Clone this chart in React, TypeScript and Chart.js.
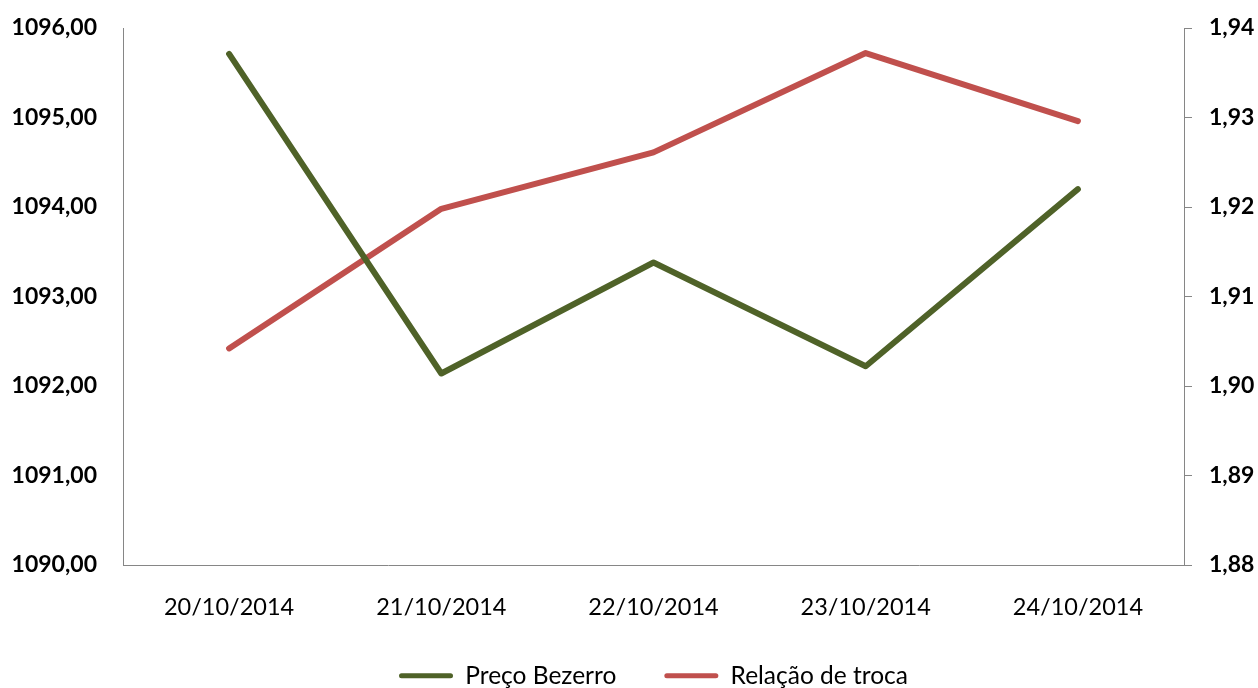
import { useEffect, useRef } from "react";
import { Chart, registerables } from "chart.js";

Chart.register(...registerables);

const categories = ["20/10/2014", "21/10/2014", "22/10/2014", "23/10/2014", "24/10/2014"];
const precoBezerro = [1095.71, 1092.14, 1093.38, 1092.22, 1094.2];
const relacaoTroca = [1.9042, 1.9198, 1.9261, 1.9372, 1.9296];
const leftTicks = [1090, 1091, 1092, 1093, 1094, 1095, 1096];
const rightTicks = [1.88, 1.89, 1.9, 1.91, 1.92, 1.93, 1.94];
const seriesNames = ["Preço Bezerro", "Relação de troca"];

const fmt = (v: number) => v.toFixed(2).replace(".", ",");

export default function App() {
  const ref = useRef<HTMLCanvasElement | null>(null);

  useEffect(() => {
    if (!ref.current) return;
    const axisColor = "#868686";
    const chart = new Chart(ref.current, {
      type: "line",
      data: {
        labels: categories,
        datasets: [
          {
            label: seriesNames[0],
            data: precoBezerro,
            borderColor: "#4F6228",
            backgroundColor: "#4F6228",
            borderWidth: 6,
            borderCapStyle: "round",
            borderJoinStyle: "round",
            pointRadius: 0,
            tension: 0,
            yAxisID: "y",
          },
          {
            label: seriesNames[1],
            data: relacaoTroca,
            borderColor: "#C0504D",
            backgroundColor: "#C0504D",
            borderWidth: 6,
            borderCapStyle: "round",
            borderJoinStyle: "round",
            pointRadius: 0,
            tension: 0,
            yAxisID: "y1",
          },
        ],
      },
      options: {
        responsive: false,
        animation: false,
        layout: { padding: { top: 28, bottom: 0, left: 0, right: 0 } },
        plugins: {
          tooltip: { enabled: false },
          legend: {
            position: "bottom",
            fullSize: false,
            labels: {
              boxWidth: 54,
              boxHeight: 5,
              padding: 48,
              color: "#000",
              font: { family: "Lato", size: 24.5 },
              generateLabels: (c: any) =>
                c.data.datasets.map((ds: any, i: number) => ({
                  text: ds.label,
                  fillStyle: ds.borderColor,
                  strokeStyle: ds.borderColor,
                  lineWidth: 0,
                  hidden: false,
                  datasetIndex: i,
                  borderRadius: 2.5,
                  fontColor: "#000",
                })),
            },
          },
        },
        scales: {
          x: {
            offset: true,
            grid: { display: false, drawTicks: false },
            border: { display: true, color: axisColor, width: 1 },
            ticks: {
              color: "#000",
              padding: 28,
              maxRotation: 0,
              font: { family: "Lato", size: 23.5 },
            },
            afterFit: (s: any) => {
              s.height = 50.5;
            },
          },
          y: {
            position: "left",
            min: 1090,
            max: 1096,
            grid: { display: false, drawTicks: false },
            border: { display: true, color: axisColor, width: 1 },
            ticks: {
              color: "#000",
              padding: 26,
              font: { family: "Lato", size: 23, weight: "bold" },
              callback: (v: any) => fmt(Number(v)),
            },
            afterBuildTicks: (s: any) => {
              s.ticks = leftTicks.map((v) => ({ value: v }));
            },
            afterFit: (s: any) => {
              s.width = 123;
              s.paddingTop = 0;
              s.paddingBottom = 0;
            },
          },
          y1: {
            position: "right",
            min: 1.88,
            max: 1.94,
            grid: {
              display: true,
              drawOnChartArea: false,
              drawTicks: true,
              tickLength: 8,
              color: axisColor,
              lineWidth: 1,
            },
            border: { display: true, color: axisColor, width: 1 },
            ticks: {
              color: "#000",
              padding: 17,
              font: { family: "Lato", size: 23, weight: "bold" },
              callback: (v: any) => fmt(Number(v)),
            },
            afterBuildTicks: (s: any) => {
              s.ticks = rightTicks.map((v) => ({ value: v }));
            },
            afterFit: (s: any) => {
              s.width = 74;
              s.paddingTop = 0;
              s.paddingBottom = 0;
            },
          },
        },
      } as any,
    });
    return () => chart.destroy();
  }, []);

  return (
    <div style={{ position: "fixed", left: 0, top: 0, width: 1258, height: 688, background: "#fff", overflow: "hidden" }}>
      <canvas ref={ref} width={1258} height={698} style={{ display: "block" }} />
    </div>
  );
}
